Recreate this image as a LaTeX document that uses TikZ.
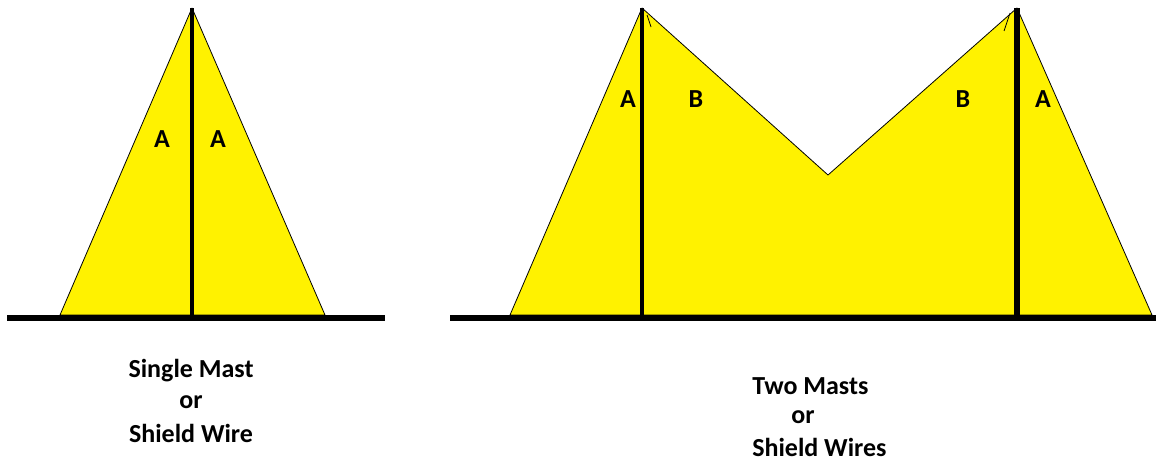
\documentclass[tikz,border=0pt]{standalone}
\usepackage{fontspec}
\setmainfont{Carlito}
\definecolor{zoneyellow}{HTML}{FFF200}

\begin{document}
\begin{tikzpicture}[x=0.75pt,y=-0.75pt,
        zone/.style={fill=zoneyellow,draw=black,line width=0.6pt,line join=round},
        ground/.style={line width=5.2pt},
        mast/.style={line width=2.3pt},
        lbl/.style={font=\bfseries\fontsize{19.5}{22}\selectfont,inner sep=0pt}]
        \useasboundingbox (0,0) rectangle (1156,461);

        % Single mast
        \coordinate (topS) at (192,8);
        \coordinate (baseSL) at (60,315);
        \coordinate (baseSR) at (325,315);
        \coordinate (footS) at (192,315);
        \draw[zone] (baseSL) -- (topS) -- (baseSR) -- cycle;
        \draw[mast] (topS) -- (footS);
        \coordinate (gndSL) at (7,318);
        \coordinate (gndSR) at (385,318);
        \draw[ground] (gndSL) -- (gndSR);
        \node[lbl] (aSL) at (162,139) {A};
        \node[lbl] (aSR) at (218,139) {A};

        % Two masts
        \coordinate (topL) at (642,8);
        \coordinate (topR) at (1017,8);
        \coordinate (valley) at (828,175);
        \coordinate (baseTL) at (510,315);
        \coordinate (baseTR) at (1152,315);
        \coordinate (footL) at (642,315);
        \coordinate (footR) at (1017,315);
        \draw[zone] (baseTL) -- (topL) -- (valley) -- (topR) -- (baseTR) -- cycle;
        \draw[mast] (topL) -- (footL);
        \draw[mast,line width=3.8pt] (topR) -- (footR);
        \draw[line width=0.6pt] (647,15) -- (651,27);
        \draw[line width=0.6pt] (1010,13) -- (1004,31);
        \coordinate (gndTL) at (450,318);
        \coordinate (gndTR) at (1156,318);
        \draw[ground] (gndTL) -- (gndTR);
        \node[lbl] (aTL) at (628,99) {A};
        \node[lbl] (bTL) at (696,99) {B};
        \node[lbl] (bTR) at (963,99) {B};
        \node[lbl] (aTR) at (1043,99) {A};

        % Captions
        \node[lbl] (capS1) at (191,371) {Single Mast};
        \node[lbl] (capS2) at (191,402) {or};
        \node[lbl] (capS3) at (191,433) {Shield Wire};
        \node[lbl,anchor=west] (capT1) at (752,386) {Two Masts};
        \node[lbl] (capT2) at (803,417) {or};
        \node[lbl,anchor=west] (capT3) at (752,447) {Shield Wires};
    \end{tikzpicture}
\end{document}
